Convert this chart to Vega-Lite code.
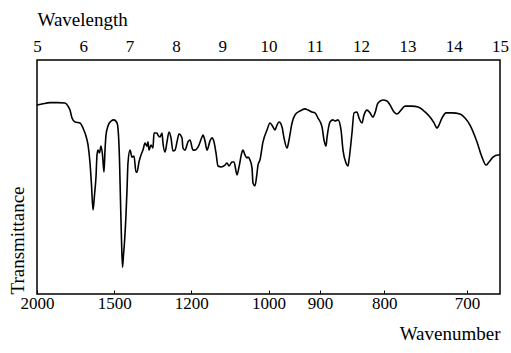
{
  "$schema": "https://vega.github.io/schema/vega-lite/v6.json",
  "width": 463,
  "height": 234,
  "autosize": "none",
  "padding": {"left": 37, "top": 60, "right": 11, "bottom": 59},
  "background": "white",
  "config": {"view": {"stroke": "black", "strokeWidth": 1.5}, "font": "Liberation Serif"},
  "data": {"values": [
    {"wl": 5.000, "t": 80.8}, {"wl": 5.108, "t": 81.2}, {"wl": 5.281, "t": 81.8}, {"wl": 5.454, "t": 81.8},
    {"wl": 5.605, "t": 81.6}, {"wl": 5.670, "t": 80.3}, {"wl": 5.713, "t": 78.6}, {"wl": 5.756, "t": 75.2},
    {"wl": 5.821, "t": 73.5}, {"wl": 5.929, "t": 73.1}, {"wl": 5.994, "t": 70.9}, {"wl": 6.058, "t": 67.5},
    {"wl": 6.102, "t": 63.7}, {"wl": 6.145, "t": 56.0}, {"wl": 6.177, "t": 46.6}, {"wl": 6.210, "t": 35.9},
    {"wl": 6.242, "t": 42.3}, {"wl": 6.274, "t": 50.0}, {"wl": 6.296, "t": 59.4}, {"wl": 6.317, "t": 61.5},
    {"wl": 6.350, "t": 60.3}, {"wl": 6.382, "t": 63.2}, {"wl": 6.415, "t": 59.4}, {"wl": 6.447, "t": 52.1},
    {"wl": 6.469, "t": 61.5}, {"wl": 6.490, "t": 67.9}, {"wl": 6.533, "t": 71.8}, {"wl": 6.598, "t": 73.9},
    {"wl": 6.663, "t": 74.4}, {"wl": 6.728, "t": 73.1}, {"wl": 6.760, "t": 67.9}, {"wl": 6.782, "t": 57.3},
    {"wl": 6.803, "t": 40.2}, {"wl": 6.825, "t": 23.1}, {"wl": 6.847, "t": 11.5}, {"wl": 6.868, "t": 16.7},
    {"wl": 6.890, "t": 22.2}, {"wl": 6.922, "t": 33.8}, {"wl": 6.944, "t": 44.4}, {"wl": 6.965, "t": 56.0},
    {"wl": 7.009, "t": 61.5}, {"wl": 7.052, "t": 58.5}, {"wl": 7.095, "t": 59.0}, {"wl": 7.138, "t": 52.1},
    {"wl": 7.160, "t": 52.1}, {"wl": 7.203, "t": 56.4}, {"wl": 7.246, "t": 59.4}, {"wl": 7.289, "t": 61.5},
    {"wl": 7.333, "t": 64.5}, {"wl": 7.376, "t": 63.2}, {"wl": 7.397, "t": 65.0}, {"wl": 7.419, "t": 61.5},
    {"wl": 7.462, "t": 63.7}, {"wl": 7.505, "t": 62.4}, {"wl": 7.527, "t": 68.8}, {"wl": 7.592, "t": 68.8},
    {"wl": 7.613, "t": 67.9}, {"wl": 7.657, "t": 67.1}, {"wl": 7.700, "t": 68.8}, {"wl": 7.721, "t": 64.5},
    {"wl": 7.765, "t": 60.7}, {"wl": 7.808, "t": 65.0}, {"wl": 7.851, "t": 69.2}, {"wl": 7.894, "t": 66.7},
    {"wl": 7.937, "t": 61.1}, {"wl": 7.981, "t": 61.5}, {"wl": 8.024, "t": 65.0}, {"wl": 8.067, "t": 68.4},
    {"wl": 8.132, "t": 66.7}, {"wl": 8.153, "t": 62.4}, {"wl": 8.197, "t": 61.5}, {"wl": 8.261, "t": 65.0},
    {"wl": 8.305, "t": 65.8}, {"wl": 8.369, "t": 61.5}, {"wl": 8.413, "t": 61.5}, {"wl": 8.477, "t": 62.8},
    {"wl": 8.564, "t": 67.1}, {"wl": 8.585, "t": 67.9}, {"wl": 8.629, "t": 65.4}, {"wl": 8.672, "t": 61.5},
    {"wl": 8.737, "t": 65.4}, {"wl": 8.780, "t": 66.7}, {"wl": 8.823, "t": 65.0}, {"wl": 8.866, "t": 60.3},
    {"wl": 8.909, "t": 54.7}, {"wl": 8.974, "t": 54.3}, {"wl": 9.060, "t": 55.1}, {"wl": 9.104, "t": 56.0},
    {"wl": 9.147, "t": 54.7}, {"wl": 9.212, "t": 56.4}, {"wl": 9.255, "t": 56.4}, {"wl": 9.320, "t": 50.9},
    {"wl": 9.363, "t": 54.3}, {"wl": 9.428, "t": 60.7}, {"wl": 9.449, "t": 61.5}, {"wl": 9.492, "t": 59.4},
    {"wl": 9.536, "t": 58.1}, {"wl": 9.557, "t": 58.5}, {"wl": 9.600, "t": 57.3}, {"wl": 9.644, "t": 53.8},
    {"wl": 9.665, "t": 47.4}, {"wl": 9.708, "t": 46.2}, {"wl": 9.752, "t": 51.7}, {"wl": 9.773, "t": 55.1},
    {"wl": 9.816, "t": 57.3}, {"wl": 9.881, "t": 65.0}, {"wl": 9.968, "t": 70.1}, {"wl": 10.032, "t": 73.1},
    {"wl": 10.097, "t": 71.4}, {"wl": 10.140, "t": 70.1}, {"wl": 10.184, "t": 72.2}, {"wl": 10.227, "t": 73.5},
    {"wl": 10.292, "t": 71.4}, {"wl": 10.335, "t": 66.7}, {"wl": 10.400, "t": 62.4}, {"wl": 10.443, "t": 65.8},
    {"wl": 10.508, "t": 73.1}, {"wl": 10.572, "t": 76.5}, {"wl": 10.680, "t": 78.2}, {"wl": 10.788, "t": 79.1},
    {"wl": 10.853, "t": 78.6}, {"wl": 10.940, "t": 77.8}, {"wl": 11.004, "t": 77.4}, {"wl": 11.069, "t": 75.2},
    {"wl": 11.156, "t": 71.4}, {"wl": 11.199, "t": 65.8}, {"wl": 11.242, "t": 63.2}, {"wl": 11.263, "t": 66.7},
    {"wl": 11.328, "t": 73.5}, {"wl": 11.393, "t": 74.4}, {"wl": 11.436, "t": 73.9}, {"wl": 11.501, "t": 74.4},
    {"wl": 11.566, "t": 70.1}, {"wl": 11.609, "t": 61.5}, {"wl": 11.674, "t": 56.0}, {"wl": 11.717, "t": 54.7},
    {"wl": 11.739, "t": 57.3}, {"wl": 11.803, "t": 68.8}, {"wl": 11.847, "t": 77.4}, {"wl": 11.911, "t": 77.8},
    {"wl": 11.955, "t": 75.2}, {"wl": 12.019, "t": 73.1}, {"wl": 12.063, "t": 76.5}, {"wl": 12.127, "t": 78.6},
    {"wl": 12.192, "t": 77.4}, {"wl": 12.257, "t": 75.6}, {"wl": 12.300, "t": 77.4}, {"wl": 12.365, "t": 81.6},
    {"wl": 12.473, "t": 82.9}, {"wl": 12.559, "t": 82.5}, {"wl": 12.624, "t": 80.8}, {"wl": 12.711, "t": 77.8},
    {"wl": 12.775, "t": 76.9}, {"wl": 12.862, "t": 78.6}, {"wl": 12.948, "t": 80.3}, {"wl": 13.099, "t": 80.3},
    {"wl": 13.229, "t": 79.9}, {"wl": 13.380, "t": 77.8}, {"wl": 13.488, "t": 75.6}, {"wl": 13.575, "t": 73.1},
    {"wl": 13.639, "t": 70.9}, {"wl": 13.661, "t": 71.4}, {"wl": 13.747, "t": 75.2}, {"wl": 13.834, "t": 77.4},
    {"wl": 13.963, "t": 77.4}, {"wl": 14.136, "t": 76.9}, {"wl": 14.244, "t": 75.2}, {"wl": 14.352, "t": 72.2},
    {"wl": 14.503, "t": 65.0}, {"wl": 14.611, "t": 58.5}, {"wl": 14.698, "t": 55.1}, {"wl": 14.762, "t": 56.4},
    {"wl": 14.849, "t": 58.5}, {"wl": 14.957, "t": 59.4}, {"wl": 15.000, "t": 59.4}
  ]},
  "layer": [
    {
      "mark": {"type": "line", "color": "black", "strokeWidth": 1.6, "interpolate": "monotone"},
      "encoding": {
        "x": {
          "field": "wl", "type": "quantitative",
          "scale": {"domain": [5, 15], "nice": false, "zero": false},
          "axis": {
            "orient": "bottom",
            "values": [5, 6.66667, 8.33333, 10, 11.11111, 12.5, 14.28571],
            "labelExpr": "format(10000 / datum.value, '.0f')",
            "tickSize": -4, "tickColor": "black", "tickWidth": 1,
            "domain": false, "grid": false,
            "labelFontSize": 17, "labelColor": "black", "labelPadding": 5, "labelFlush": false,
            "title": "Wavenumber", "titleAnchor": "end", "titleFontSize": 19,
            "titleFontWeight": "normal", "titleColor": "black", "titlePadding": 13
          }
        },
        "y": {
          "field": "t", "type": "quantitative",
          "scale": {"domain": [0, 100], "nice": false},
          "axis": {
            "title": "Transmittance", "labels": false, "ticks": false, "domain": false, "grid": false,
            "titleAnchor": "start", "titleFontSize": 19, "titleFontWeight": "normal",
            "titlePadding": 10, "titleColor": "black"
          }
        }
      }
    },
    {
      "mark": {"type": "line", "opacity": 0},
      "encoding": {
        "x": {
          "field": "wl", "type": "quantitative",
          "scale": {"domain": [5, 15], "nice": false, "zero": false},
          "axis": {
            "orient": "top",
            "values": [5, 6, 7, 8, 9, 10, 11, 12, 13, 14, 15],
            "ticks": false, "domain": false, "grid": false,
            "labelFontSize": 17, "labelColor": "black", "labelPadding": 5, "labelFlush": false,
            "title": "Wavelength", "titleAnchor": "start", "titleFontSize": 19,
            "titleFontWeight": "normal", "titleColor": "black", "titlePadding": 8
          }
        },
        "y": {"field": "t", "type": "quantitative", "scale": {"domain": [0, 100], "nice": false}}
      }
    }
  ],
  "resolve": {"scale": {"x": "independent"}}
}
